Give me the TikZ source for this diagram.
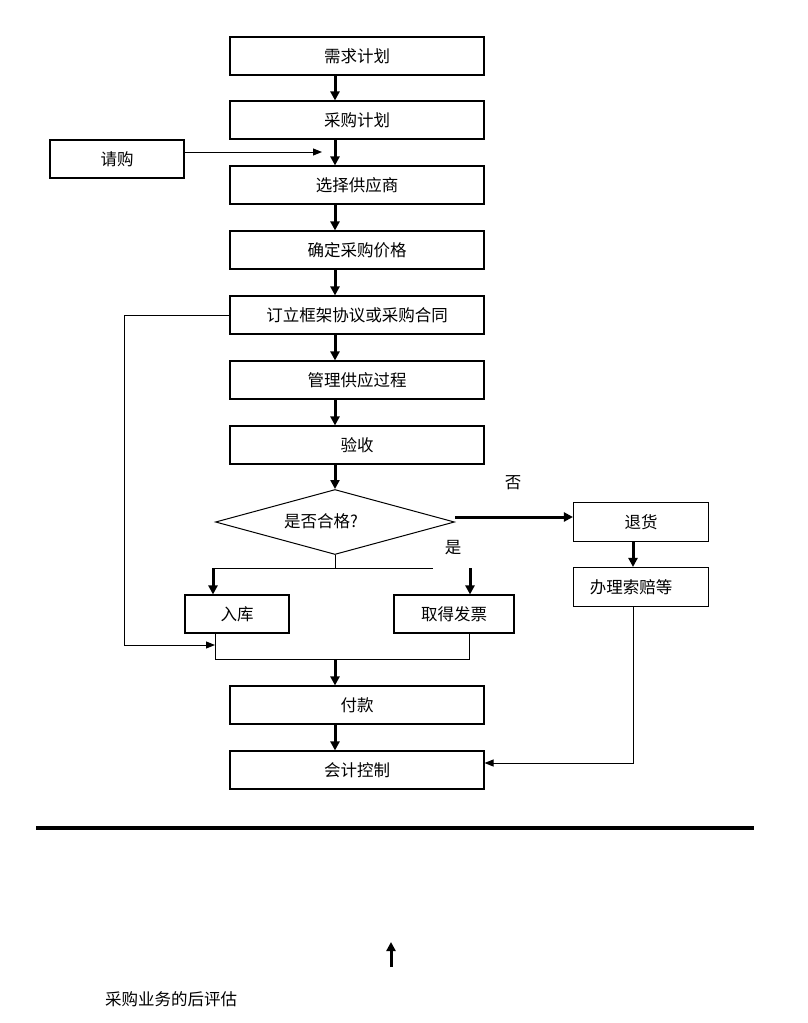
\documentclass[tikz,border=0pt]{standalone}
\usepackage{fontspec}
\setmainfont{Noto Sans CJK SC}
\usetikzlibrary{arrows.meta,shapes.geometric}
\tikzset{
  box/.style={draw, line width=1.1pt, minimum height=38pt, inner sep=0pt, font=\fontsize{16.5}{19}\selectfont},
  mainbox/.style={box, minimum width=254pt},
  thk/.style={line width=3pt, -{Triangle[length=9pt,width=9pt]}},
  thn/.style={line width=1pt, -{Triangle[length=9pt,width=7pt]}},
  ln/.style={line width=1pt},
  lbl/.style={inner sep=0pt, font=\fontsize{16.5}{19}\selectfont}
}
\begin{document}
\begin{tikzpicture}[x=1pt,y=-1pt]
\useasboundingbox (0,0) rectangle (807,1023);
\coordinate (ax) at (335,0);
% main boxes
\node[mainbox] (n1) at (357,56) {需求计划};
\node[mainbox] (n2) at (357,120) {采购计划};
\node[mainbox] (n3) at (357,185) {选择供应商};
\node[mainbox] (n4) at (357,250) {确定采购价格};
\node[mainbox] (n5) at (357,315) {订立框架协议或采购合同};
\node[mainbox] (n6) at (357,380) {管理供应过程};
\node[mainbox] (n7) at (357,445) {验收};
\node[box, minimum width=134pt] (qg) at (117,159) {请购};
\node[draw, line width=1pt, diamond, minimum width=239pt, minimum height=65pt, inner sep=0pt] (dia) at (335,522) {};
\node[lbl] (dial) at (321,521) {是否合格?};
\node[box, minimum width=135pt, minimum height=39pt] (th) at (641,522) {退货};
\node[box, minimum width=135pt, minimum height=39pt] (sp) at (641,587) {\hspace*{-20pt}办理索赔等};
\node[box, minimum width=104pt] (rk) at (237,614) {入库};
\node[box, minimum width=120pt] (fp) at (454,614) {取得发票};
\node[mainbox] (fk) at (357,705) {付款};
\node[mainbox] (kj) at (357,770) {会计控制};
\node[lbl] (no) at (513,483) {否};
\node[lbl] (yes) at (453,548) {是};
\node[lbl, anchor=west] (ev) at (105,999) {采购业务的后评估};
% coordinates
\coordinate (qgend) at (322,152);
\coordinate (split) at (335,568);
\coordinate (spl) at (213,568);
\coordinate (spr) at (433,568);
\coordinate (fpa) at (470,568);
\coordinate (bl) at (215,659);
\coordinate (br) at (469,659);
\coordinate (bm) at (335,659);
\coordinate (lp1) at (124,315);
\coordinate (lp2) at (124,645);
\coordinate (lp3) at (215,645);
\coordinate (cr) at (633,763);
\coordinate (hl1) at (36,828);
\coordinate (hl2) at (754,828);
\coordinate (ua1) at (391,967);
\coordinate (ua2) at (391,942);
% vertical arrows
\draw[thk] (n1.south -| ax) -- (n2.north -| ax);
\draw[thk] (n2.south -| ax) -- (n3.north -| ax);
\draw[thk] (n3.south -| ax) -- (n4.north -| ax);
\draw[thk] (n4.south -| ax) -- (n5.north -| ax);
\draw[thk] (n5.south -| ax) -- (n6.north -| ax);
\draw[thk] (n6.south -| ax) -- (n7.north -| ax);
\draw[thk] (n7.south -| ax) -- (dia.north);
\draw[thn] ([yshift=7pt]qg.east) -- (qgend);
% decision
\draw[thk] ([yshift=5pt]th.west -| dia.east) -- ([yshift=5pt]th.west);
\draw[thk] (th.south -| cr) -- (sp.north -| cr);
\draw[ln] (dia.south) -- (split);
\draw[ln] (spl) -- (spr);
\draw[thk] (spl) -- (rk.north -| spl);
\draw[thk] (fpa) -- (fp.north -| fpa);
\draw[ln] (rk.south -| bl) -- (bl) -- (br) -- (fp.south -| br);
\draw[thk] (bm) -- (fk.north -| bm);
\draw[thn] (n5.west) -- (lp1) -- (lp2) -- (lp3);
\draw[thk] (fk.south -| ax) -- (kj.north -| ax);
\draw[thn] (sp.south -| cr) -- (cr) -- (kj.east |- cr);
% bottom
\draw[line width=4pt] (hl1) -- (hl2);
\draw[thk] (ua1) -- (ua2);
\end{tikzpicture}
\end{document}
